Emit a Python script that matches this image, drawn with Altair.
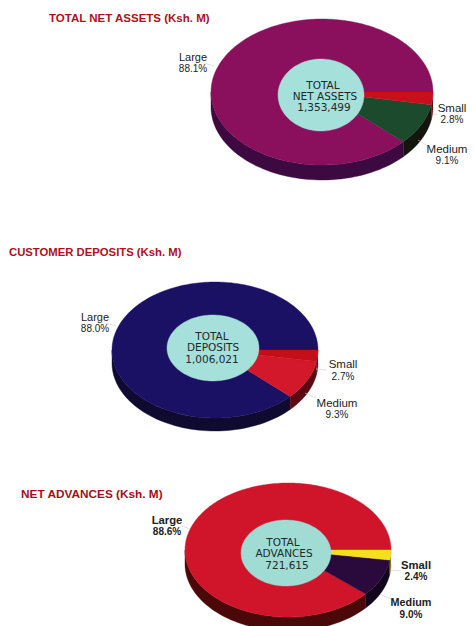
import numpy as np
import pandas as pd
import altair as alt

# shares (percent), clockwise from 3 o'clock
segments = ["Small", "Medium", "Large"]
assets_share = [2.8, 9.1, 88.1]
deposits_share = [2.7, 9.3, 88.0]
advances_share = [2.4, 9.0, 88.6]

titles = ["TOTAL  NET ASSETS (Ksh. M)", "CUSTOMER DEPOSITS (Ksh. M)", "NET ADVANCES  (Ksh. M)"]
centre_text = [["TOTAL", "NET ASSETS", "1,353,499"], ["TOTAL", "DEPOSITS", "1,006,021"], ["TOTAL", "ADVANCES", "721,615"]]

# layout: cx, cy, rx, ry, depth, hole cx, hole cy, hole rx, hole ry
pie_layout = [
    (322, 92, 111, 73, 15, 321, 95, 43, 36),
    (215, 350, 103, 68, 13, 213, 348, 46, 33),
    (288, 550, 103, 67, 14, 286, 553, 45, 33),
]
top_colors = [["#c8101c", "#1b4a2c", "#8a0f5c"], ["#c40f18", "#d2182a", "#1a1064"], ["#f5e020", "#2a0a3c", "#d0152a"]]
side_colors = [["#6a0a10", "#14160e", "#3c0a40"], ["#6a0a10", "#5a0a12", "#0e0a30"], ["#8a7a10", "#12061c", "#4a0808"]]
hole_colors = ["#a6e0da", "#a6e0da", "#a0dcd4"]
shares = [assets_share, deposits_share, advances_share]

title_pos = [(49, 19, 11.5), (9, 253, 11.3), (21, 494, 11.8)]
title_colors = ["#b01020", "#b01020", "#a80c20"]
label_pos = [
    [(452, 109, 120), (447, 150, 161), (193, 58, 69)],
    [(343, 365, 377), (337, 404, 415), (95, 318, 329)],
    [(416, 566, 577), (411, 603, 615), (167, 521, 532)],
]
word_sizes = [{"Small": 11.5, "Medium": 11.5, "Large": 11}, {"Small": 11.5, "Medium": 11.5, "Large": 11}, {"Small": 11.3, "Medium": 10.8, "Large": 11.3}]
pct_sizes = [10, 10, 10]
centre_pos = [[(323, 86), (325, 97), (324, 108)], [(212, 337), (213, 348), (212, 360)], [(283, 543), (284, 554), (287, 566)]]
centre_size = 10.5
leader_lines = [
    [(433, 114, 438, 115), (418, 140, 428, 146), (204, 63, 214, 66)],
    [(316, 369, 327, 370), (305, 393, 316, 398), (106, 323, 116, 326)],
    [(391, 570, 401, 571), (380, 594, 391, 599), (182, 526, 190, 529)],
]
label_weight = ["normal", "normal", "bold"]

polys = []
pid = 0


def add_poly(xs, ys, color):
    global pid
    for i, (x, y) in enumerate(zip(xs, ys)):
        polys.append(dict(poly=f"p{pid:03d}", i=i, x=float(x), y=float(y), c=color))
    pid += 1


for p, (cx, cy, rx, ry, d, hx, hy, hrx, hry) in enumerate(pie_layout):
    edges = np.cumsum([0] + shares[p]) / 100 * 2 * np.pi
    # sides (only the visible front half)
    for k in [2, 1, 0]:
        a0, a1 = edges[k], min(edges[k + 1], np.pi)
        t = np.linspace(a0, a1, 60)
        xs = np.r_[cx + rx * np.cos(t), cx + rx * np.cos(t[::-1])]
        ys = np.r_[cy + ry * np.sin(t), cy + d + ry * np.sin(t[::-1])]
        add_poly(xs, ys, side_colors[p][k])
    # top wedges
    for k in [2, 1, 0]:
        t = np.linspace(edges[k], edges[k + 1], 240 if k == 2 else 30)
        xs = np.r_[cx, cx + rx * np.cos(t), cx]
        ys = np.r_[cy, cy + ry * np.sin(t), cy]
        add_poly(xs, ys, top_colors[p][k])
    # centre disc
    t = np.linspace(0, 2 * np.pi, 120)
    add_poly(hx + hrx * np.cos(t), hy + hry * np.sin(t), hole_colors[p])

X = alt.X("x:Q", axis=None, scale=alt.Scale(domain=[8, 467], nice=False, zero=False))
Y = alt.Y("y:Q", axis=None, scale=alt.Scale(domain=[626, 8], nice=False, zero=False))

shapes = alt.Chart(pd.DataFrame(polys)).mark_line(filled=True, clip=True, strokeWidth=0.4).encode(
    x=X, y=Y,
    fill=alt.Fill("c:N", scale=None),
    stroke=alt.Stroke("c:N", scale=None),
    detail="poly:N",
    order="i:Q",
)

rows = []
centre_rows = []
for p in range(3):
    for k, seg in enumerate(segments):
        x, y1, y2 = label_pos[p][k]
        rows.append(dict(x=x, y=y1, t=seg, w=label_weight[p], s=word_sizes[p][seg], c="#222222"))
        rows.append(dict(x=x, y=y2, t=f"{shares[p][k]}%", w=label_weight[p], s=pct_sizes[p], c="#222222"))
    for (x, y), line in zip(centre_pos[p], centre_text[p]):
        centre_rows.append(dict(x=x, y=y, t=line, s=centre_size, c="#1c2a2a"))
text_df = pd.DataFrame(rows)


def text_layer(df, weight, font="Liberation Sans"):
    return alt.Chart(df).mark_text(font=font, fontWeight=weight, baseline="middle", align="center").encode(
        x=X, y=Y, text="t:N", size=alt.Size("s:Q", scale=None), color=alt.Color("c:N", scale=None)
    )


texts = [text_layer(text_df[text_df.w == w], w) for w in ["normal", "bold"]]
texts.append(text_layer(pd.DataFrame(centre_rows), "normal", "DejaVu Sans"))

title_df = pd.DataFrame([
    dict(x=title_pos[i][0], y=title_pos[i][1], t=titles[i], s=title_pos[i][2], c=title_colors[i]) for i in range(3)
])
title_layer = alt.Chart(title_df).mark_text(font="Liberation Sans", fontWeight="bold", baseline="middle", align="left").encode(
    x=X, y=Y, text="t:N", size=alt.Size("s:Q", scale=None), color=alt.Color("c:N", scale=None)
)

lead_rows = []
for p in range(3):
    for k, (x1, y1, x2, y2) in enumerate(leader_lines[p]):
        lead_rows.append(dict(g=f"{p}{k}", x=x1, y=y1, x2=x2, y2=y2))
leaders = alt.Chart(pd.DataFrame(lead_rows)).mark_rule(color="#cccccc", strokeWidth=0.6).encode(
    x=X, y=Y, x2="x2:Q", y2="y2:Q"
)

chart = alt.layer(shapes, leaders, *texts, title_layer).properties(
    width=459, height=618, padding=0, autosize=alt.AutoSizeParams(type="none"),
    background="#ffffff",
).configure_view(stroke=None)

chart.save("out.html", embed_options={"renderer": "svg", "actions": False})
